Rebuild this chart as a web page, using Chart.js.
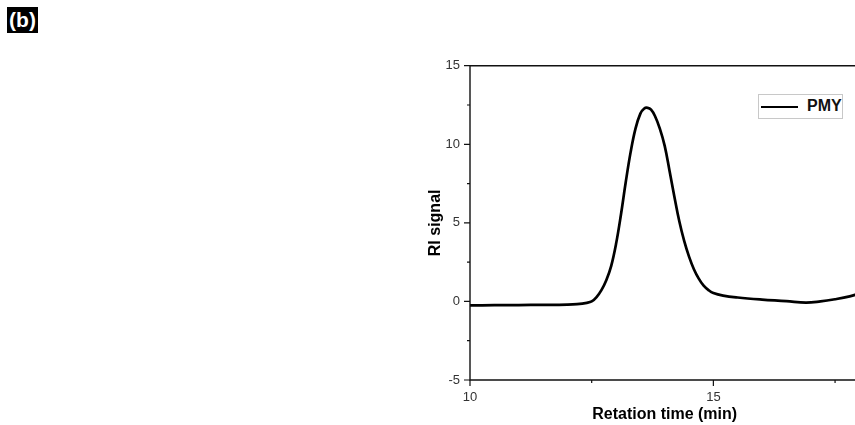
<!DOCTYPE html>
<html><head><meta charset="utf-8">
<script src="https://cdn.jsdelivr.net/npm/chart.js@4"></script>
<style>
html,body{margin:0;padding:0;background:#fff;overflow:hidden;width:855px;height:425px}
#wrap{position:relative;width:880px;height:425px}
#c{position:absolute;left:0;top:0}
#lbl{position:absolute;left:7px;top:7px;width:31px;height:26px;background:#000;color:#fff;font:bold 21px "Liberation Sans",Arial,sans-serif;line-height:26px;text-align:center}
#leg{position:absolute;left:758px;top:94px;width:83px;height:23px;border:1px solid #c8c8c8;background:#fff;font:bold 16px "Liberation Sans",Arial,sans-serif;color:#111}
#leg .ln{position:absolute;left:2px;top:10.5px;width:37px;height:2.5px;background:#000}
#leg .tx{position:absolute;left:48px;top:0;line-height:22px}
</style>
</head><body>
<div id="wrap">
<canvas id="c" width="880" height="425"></canvas>
<div id="lbl">(b)</div>
<div id="leg"><div class="ln"></div><div class="tx">PMY</div></div>
</div>
<script>
const seriesName = "PMY";
const retentionTime = [10.0,10.5,11.0,11.5,12.0,12.2,12.4,12.5,12.6,12.7,12.8,12.9,13.0,13.1,13.2,13.3,13.4,13.5,13.58,13.65,13.72,13.8,13.9,14.0,14.1,14.2,14.3,14.4,14.5,14.6,14.7,14.8,14.9,15.0,15.2,15.5,16.0,16.5,16.9,17.2,17.5,17.8,18.0];
const riSignal =      [-0.25,-0.24,-0.23,-0.22,-0.2,-0.17,-0.09,0.0,0.28,0.72,1.35,2.25,3.65,5.5,7.6,9.5,11.0,11.95,12.28,12.32,12.2,11.8,11.0,9.9,8.3,6.65,5.1,3.85,2.85,2.05,1.45,1.0,0.72,0.53,0.37,0.25,0.12,0.02,-0.08,0.0,0.14,0.32,0.5];
const xTickLabels = [10, 15];
const xMinorTicks = [12.5, 17.5];
const yTickLabels = [-5, 0, 5, 10, 15];
const yMinorTicks = [-2.5, 2.5, 7.5, 12.5];

const frame = {
  id: 'frame',
  afterDraw(chart) {
    const {ctx, chartArea: a, scales: {x, y}} = chart;
    ctx.save();
    ctx.strokeStyle = '#111';
    ctx.lineWidth = 1.4;
    ctx.beginPath();
    ctx.moveTo(a.left, a.top); ctx.lineTo(a.right, a.top);
    ctx.lineTo(a.right, a.bottom); ctx.lineTo(a.left, a.bottom); ctx.closePath();
    ctx.stroke();
    ctx.lineWidth = 1.2;
    ctx.beginPath();
    xTickLabels.forEach(v => { const p = x.getPixelForValue(v); ctx.moveTo(p, a.bottom); ctx.lineTo(p, a.bottom + 6); });
    xMinorTicks.forEach(v => { const p = x.getPixelForValue(v); ctx.moveTo(p, a.bottom); ctx.lineTo(p, a.bottom + 3); });
    yTickLabels.forEach(v => { const p = y.getPixelForValue(v); ctx.moveTo(a.left, p); ctx.lineTo(a.left - 6, p); });
    yMinorTicks.forEach(v => { const p = y.getPixelForValue(v); ctx.moveTo(a.left, p); ctx.lineTo(a.left - 3, p); });
    ctx.stroke();
    ctx.restore();
  }
};

new Chart(document.getElementById('c'), {
  type: 'line',
  data: {
    datasets: [{
      label: seriesName,
      data: retentionTime.map((t, i) => ({x: t, y: riSignal[i]})),
      borderColor: '#000',
      borderWidth: 2.7,
      pointRadius: 0,
      fill: false,
      tension: 0.4
    }]
  },
  options: {
    responsive: false,
    animation: false,
    events: [],
    layout: {padding: {left: 420, right: 20.6, top: 65.7, bottom: 0}},
    plugins: {legend: {display: false}, tooltip: {enabled: false}},
    scales: {
      x: {
        type: 'linear', min: 10, max: 18,
        afterBuildTicks: s => { s.ticks = xTickLabels.map(v => ({value: v})); },
        afterFit: s => { s.height = 45; },
        grid: {display: false, drawTicks: false},
        border: {display: false},
        ticks: {padding: 10, color: '#333', font: {family: 'Liberation Sans', size: 13}},
        title: {display: true, text: 'Retation time (min)', color: '#000', padding: {top: 0, bottom: 1},
                font: {family: 'Liberation Sans', size: 16, weight: 'bold'}}
      },
      y: {
        min: -5, max: 15,
        afterBuildTicks: s => { s.ticks = yTickLabels.map(v => ({value: v})); },
        afterFit: s => { s.width = 50; },
        grid: {display: false, drawTicks: false},
        border: {display: false},
        ticks: {padding: 10, color: '#333', font: {family: 'Liberation Sans', size: 13}},
        title: {display: true, text: 'RI signal', color: '#000', padding: {top: 6.4, bottom: 0},
                font: {family: 'Liberation Sans', size: 16, weight: 'bold'}}
      }
    }
  },
  plugins: [frame]
});
</script>
</body></html>
